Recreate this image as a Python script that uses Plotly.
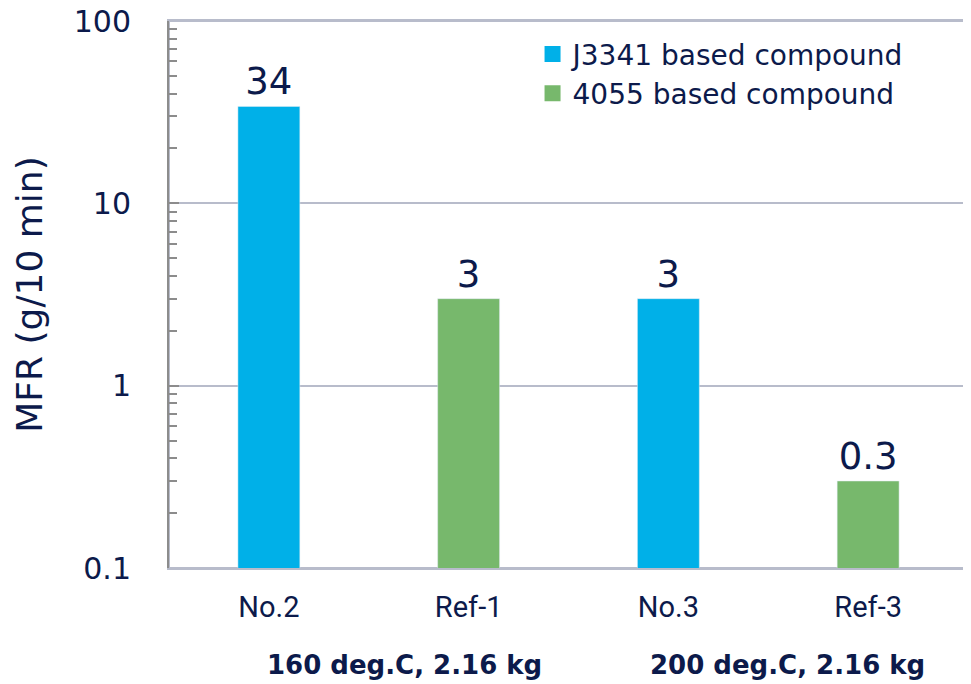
import plotly.graph_objects as go

categories = ["No.2", "Ref-1", "No.3", "Ref-3"]
j3341_cats = ["No.2", "No.3"]
j3341_vals = [34, 3]
c4055_cats = ["Ref-1", "Ref-3"]
c4055_vals = [3, 0.3]
j3341_text = ["34", "3"]
c4055_text = ["3", "0.3"]
series_names = ["J3341 based compound", "4055 based compound"]
group_labels = ["160 deg.C, 2.16 kg", "200 deg.C, 2.16 kg"]
y_ticks = [0.1, 1, 10, 100]
y_tick_text = ["0.1", "1", "10", "100"]
y_minor_ticks = [0.2, 0.3, 0.4, 0.5, 0.6, 0.7, 0.8, 0.9,
                 2, 3, 4, 5, 6, 7, 8, 9,
                 20, 30, 40, 50, 60, 70, 80, 90]

NAVY = "#0c1a4b"
BLUE = "#00b0e8"
GREEN = "#77b86c"
FONT = "DejaVu Sans, sans-serif"

fig = go.Figure()
fig.add_trace(go.Bar(x=j3341_cats, y=j3341_vals, name=series_names[0], marker_color=BLUE,
                     width=0.31, text=j3341_text, textposition="outside", showlegend=False,
                     textfont=dict(size=37, color=NAVY, family=FONT), cliponaxis=False))
fig.add_trace(go.Bar(x=c4055_cats, y=c4055_vals, name=series_names[1], marker_color=GREEN,
                     width=0.31, text=c4055_text, textposition="outside", showlegend=False,
                     textfont=dict(size=37, color=NAVY, family=FONT), cliponaxis=False))
# legend entries with larger square swatches
for name, col in zip(series_names, [BLUE, GREEN]):
    fig.add_trace(go.Scatter(x=[None], y=[None], mode="markers", name=name,
                             marker=dict(symbol="square", size=20, color=col)))

# page body has an 8px default margin; offset figure accordingly
fig.update_layout(
    width=963, height=676,
    margin=dict(l=161, r=3, t=13, b=116),
    paper_bgcolor="white", plot_bgcolor="white",
    barmode="overlay",
    font=dict(family=FONT, color=NAVY),
    showlegend=True,
    legend=dict(x=0.455, y=0.985, xanchor="left", yanchor="top",
                font=dict(size=28, color=NAVY, family=FONT),
                bgcolor="rgba(0,0,0,0)", itemwidth=30, tracegroupgap=0),
    xaxis=dict(categoryorder="array", categoryarray=categories, automargin=False,
               showline=True, linecolor="#b8bccb", linewidth=2, mirror=True,
               ticks="", tickfont=dict(size=29, color=NAVY, family="Liberation Sans Narrow, Roboto, sans-serif"),
               ticklabelstandoff=12),
    yaxis=dict(type="log", range=[-1, 2], tickmode="array", tickvals=y_ticks, ticktext=y_tick_text,
               automargin=False, ticklabeloverflow="allow",
               showline=True, linecolor="#8c8c8c", linewidth=2, mirror=False,
               showgrid=True, gridcolor="#b8bccb", gridwidth=1.5,
               ticks="inside", ticklen=10, tickcolor="#8c8c8c", tickwidth=2,
               minor=dict(tickmode="array", tickvals=y_minor_ticks, ticks="inside", ticklen=8,
                          tickcolor="#8c8c8c", tickwidth=2, showgrid=False),
               tickfont=dict(size=30, color=NAVY, family=FONT), ticklabelstandoff=30,
               title=dict(text="MFR (g/10 min)", font=dict(size=36, color=NAVY, family=FONT), standoff=20),
               zeroline=False),
)

fig.add_shape(type="rect", xref="paper", yref="paper", x0=0, x1=1, y0=0, y1=1,
              line=dict(color="#b8bccb", width=2), layer="below")

gx = [0.295, 0.774]
for lbl, x in zip(group_labels, gx):
    fig.add_annotation(text=lbl, xref="paper", yref="paper", x=x, y=-0.177,
                       xanchor="center", yanchor="middle", showarrow=False,
                       font=dict(size=26, color=NAVY, family=FONT, weight="bold"))

fig.write_html("out.html")
